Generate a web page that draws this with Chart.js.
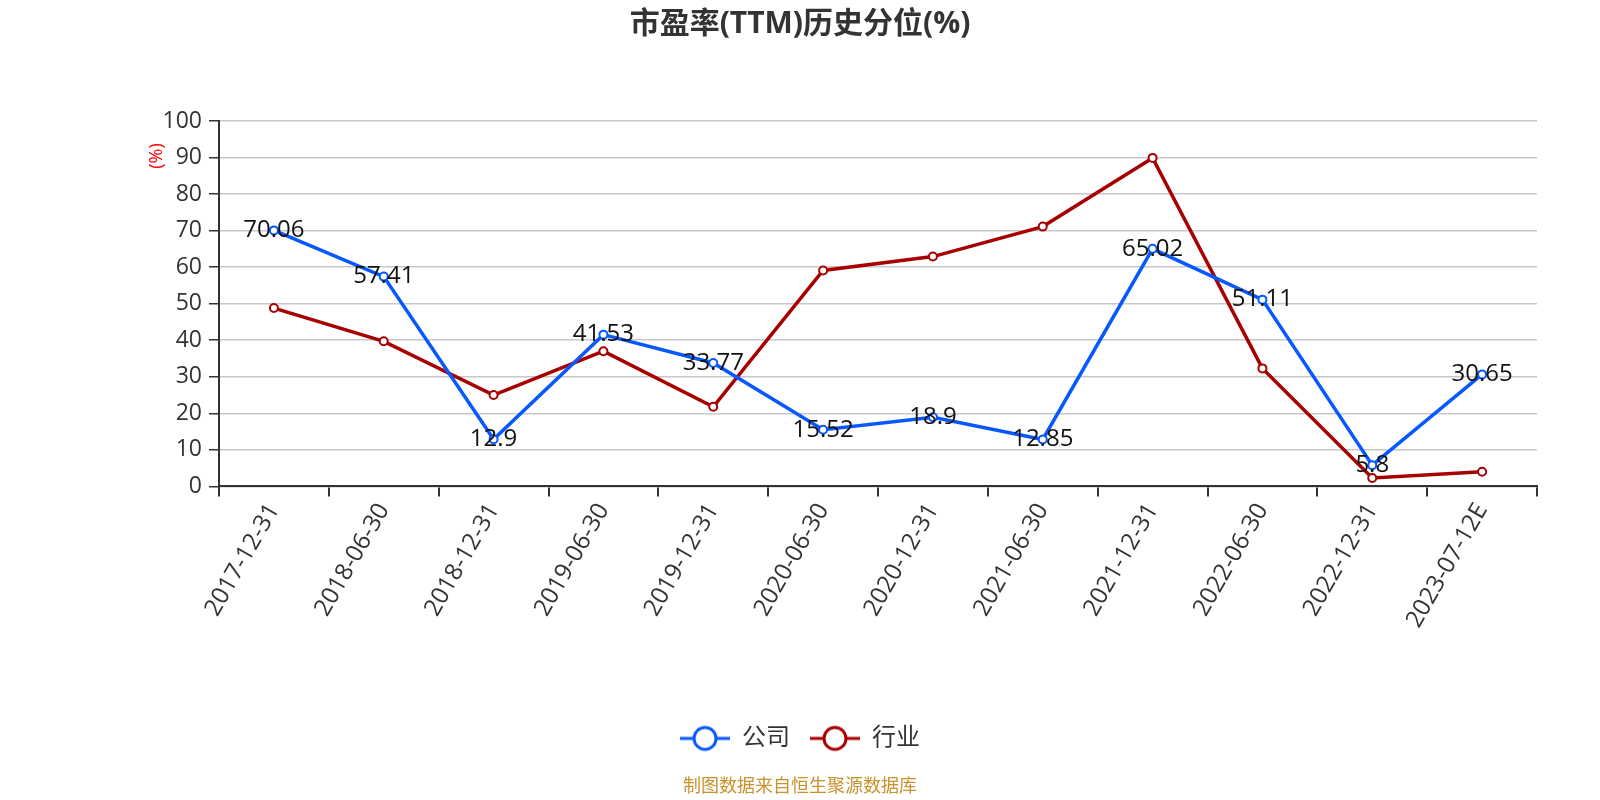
<!DOCTYPE html>
<html>
<head>
<meta charset="utf-8">
<script src="https://cdn.jsdelivr.net/npm/chart.js@4/dist/chart.umd.min.js"></script>
<style>
html,body{margin:0;padding:0;background:#fff}
#wrap{width:1600px;height:800px}
</style>
</head>
<body>
<div id="wrap"><canvas id="c" width="1600" height="800"></canvas></div>
<script>
const dates=["2017-12-31","2018-06-30","2018-12-31","2019-06-30","2019-12-31","2020-06-30","2020-12-31","2021-06-30","2021-12-31","2022-06-30","2022-12-31","2023-07-12E"]
const company=[70.06,57.41,12.9,41.53,33.77,15.52,18.9,12.85,65.02,51.11,5.8,30.65]
const industry=[48.8,39.7,25.0,37.0,21.8,59.1,62.9,71.1,89.9,32.3,2.3,4.0]
const yTicks=[0,10,20,30,40,50,60,70,80,90,100]

const BLUE="#0758ff",RED="#a80000"
const FONT='"Open Sans","Noto Sans CJK SC",sans-serif'

function legendIcon(color){
  const c=document.createElement("canvas")
  c.width=50;c.height=28
  const g=c.getContext("2d")
  g.strokeStyle=color;g.lineWidth=3
  g.beginPath();g.moveTo(0,14);g.lineTo(50,14);g.stroke()
  g.fillStyle="#fff"
  g.beginPath();g.arc(25,14,11,0,Math.PI*2);g.fill();g.stroke()
  return c
}
const icons=[legendIcon(BLUE),legendIcon(RED)]

// value labels on the company line, centred on each point
const valueLabels={
  id:"valueLabels",
  afterDatasetsDraw(chart){
    const meta=chart.getDatasetMeta(0),ctx=chart.ctx
    ctx.save()
    ctx.font="24px "+FONT
    ctx.fillStyle="#111"
    ctx.textAlign="center";ctx.textBaseline="middle"
    meta.data.forEach((p,i)=>ctx.fillText(String(company[i]),p.x,p.y))
    ctx.restore()
  }
}

// small red "(%)" unit on the y axis
const unitLabel={
  id:"unitLabel",
  afterDraw(chart){
    const ctx=chart.ctx,a=chart.chartArea
    ctx.save()
    ctx.translate(a.left-62,a.top+35)
    ctx.rotate(-Math.PI/2)
    ctx.font="18px "+FONT
    ctx.fillStyle="#ff0000"
    ctx.textAlign="center";ctx.textBaseline="middle"
    ctx.fillText("(%)",0,0)
    ctx.restore()
  }
}

new Chart(document.getElementById("c"),{
  type:"line",
  data:{
    labels:dates,
    datasets:[
      {label:"公司",data:company,borderColor:BLUE,backgroundColor:"#fff",borderWidth:3.5,
       pointRadius:4,pointBorderWidth:2,pointBackgroundColor:"#fff",pointBorderColor:BLUE,tension:0},
      {label:"行业",data:industry,borderColor:RED,backgroundColor:"#fff",borderWidth:3.5,
       pointRadius:4,pointBorderWidth:2,pointBackgroundColor:"#fff",pointBorderColor:RED,tension:0}
    ]
  },
  options:{
    responsive:false,
    animation:false,
    layout:{padding:{left:63,right:63,top:0,bottom:0}},
    plugins:{
      title:{display:true,text:"市盈率(TTM)历史分位(%)",color:"#333",
        font:{family:FONT,size:30,weight:"bold"},padding:{top:6,bottom:79}},
      subtitle:{display:true,position:"bottom",text:"制图数据来自恒生聚源数据库",color:"#c8922c",
        font:{family:FONT,size:18},padding:{top:16,bottom:2}},
      legend:{position:"bottom",
        labels:{usePointStyle:true,pointStyleWidth:50,padding:20,color:"#333",
          font:{family:FONT,size:24},
          generateLabels(chart){
            const items=Chart.defaults.plugins.legend.labels.generateLabels(chart)
            items.forEach((it,i)=>{it.pointStyle=icons[i]})
            return items
          }}},
      tooltip:{enabled:false}
    },
    scales:{
      x:{
        offset:true,
        grid:{display:true,drawOnChartArea:false,drawTicks:true,tickLength:10,color:"#333",offset:true,lineWidth:2},
        border:{display:true,color:"#333",width:2},
        ticks:{color:"#333",font:{family:FONT,size:24},minRotation:60,maxRotation:60,padding:2,autoSkip:false},
        afterFit(s){s.height=220}
      },
      y:{
        min:0,max:100,
        afterBuildTicks(s){s.ticks=yTicks.map(v=>({value:v}))},
        grid:{color:"#c8c8c8",lineWidth:1.5,drawTicks:true,tickLength:10,tickColor:"#333"},
        border:{display:true,color:"#333",width:2},
        ticks:{color:"#333",font:{family:FONT,size:23},padding:7},
        afterFit(s){s.width=156}
      }
    }
  },
  plugins:[valueLabels,unitLabel]
})
</script>
</body>
</html>
